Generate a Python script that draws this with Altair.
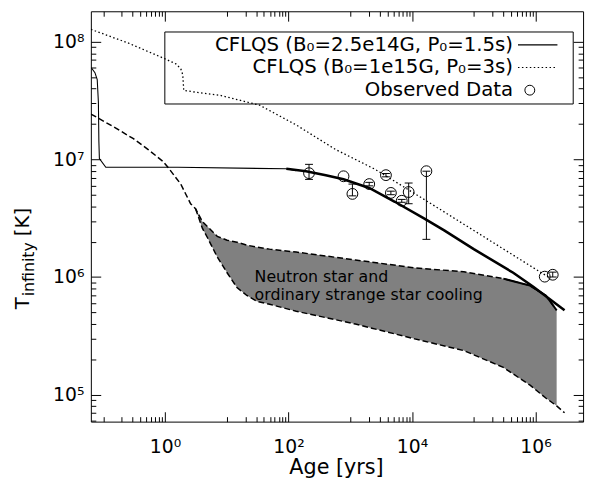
import altair as alt
import pandas as pd

FONT = "DejaVu Sans"

# ---------------- data (log10 age [yr], log10 T [K]) ----------------
# CFLQS (B0=2.5e14 G, P0=1.5 s) - solid
m1_thin_log_age = [-1.193, -1.134, -1.097, -1.078, -1.070, -1.062, -0.958, 0.208, 1.965, 2.125]
m1_thin_log_T = [7.780, 7.738, 7.679, 7.486, 7.151, 7.008, 6.933, 6.933, 6.920, 6.905]
m1_thick_log_age = [1.965, 2.284, 2.604, 2.891, 3.307, 3.722, 4.201, 4.521, 5.000, 5.639, 5.958, 6.470]
m1_thick_log_T = [6.920, 6.900, 6.866, 6.832, 6.757, 6.640, 6.497, 6.396, 6.237, 6.036, 5.919, 5.717]

# CFLQS (B0=1e15 G, P0=3 s) - dotted
m2_log_age = [-1.198, -0.591, -0.032, 0.176, 0.256, 0.288, 0.304, 0.527, 0.895,
              1.534, 2.125, 2.764, 3.403, 4.233, 5.000, 6.070, 6.230]
m2_log_T = [8.106, 7.989, 7.863, 7.813, 7.771, 7.721, 7.587, 7.570, 7.545,
            7.461, 7.293, 7.084, 6.916, 6.648, 6.396, 6.044, 5.994]

# Neutron star / ordinary strange star cooling band - dashed
ns_early_log_age = [-1.198, -0.831, -0.511, -0.272, -0.032, 0.048, 0.256, 0.415, 0.495]
ns_early_log_T = [7.386, 7.277, 7.176, 7.084, 6.983, 6.933, 6.790, 6.623, 6.581]
ns_band_log_age = [0.495, 0.607, 0.687, 0.847, 1.006, 1.166, 1.326, 1.486, 1.693,
                   2.125, 3.083, 4.042, 4.840, 5.479, 5.911, 6.166, 6.342]
ns_upper_log_T = [6.581, 6.470, 6.430, 6.346, 6.313, 6.296, 6.271, 6.254, 6.237,
                  6.212, 6.145, 6.078, 6.044, 5.986, 5.927, 5.843, 5.717]
ns_lower_log_T = [6.581, 6.413, 6.336, 6.170, 6.036, 5.910, 5.843, 5.793, 5.768,
                  5.709, 5.600, 5.474, 5.374, 5.231, 5.080, 4.971, 4.904]
ns_tail_log_age = [6.342, 6.470]
ns_tail_log_T = [4.904, 4.845]

# Observed data
obs_age = [215, 778, 1084, 2028, 3784, 4550, 6823, 8831, 17100, 1.41e6, 1.90e6]
obs_T = [7.64e6, 7.19e6, 5.09e6, 6.17e6, 7.35e6, 5.19e6, 4.45e6, 5.28e6, 7.94e6, 1.007e6, 1.045e6]
obs_T_lo = [6.76e6, None, 4.90e6, 5.96e6, 7.11e6, 5.01e6, 4.32e6, 4.20e6, 2.09e6, None, 1.0e6]
obs_T_hi = [9.08e6, None, 6.17e6, 6.38e6, 7.59e6, 5.37e6, 4.57e6, 6.30e6, 7.94e6, None, 1.10e6]

# axis tick values
x_major = [1, 100, 1e4, 1e6]
y_major = [1e5, 1e6, 1e7, 1e8]

# ---------------- helpers ----------------
X_DOMAIN = [10 ** -1.2, 10 ** 6.77]
Y_DOMAIN = [10 ** 4.77, 10 ** 8.26]
W, H = 499, 416
xsc = alt.Scale(type="log", domain=X_DOMAIN, nice=False)
ysc = alt.Scale(type="log", domain=Y_DOMAIN, nice=False)


def curve(log_age, log_T):
    return pd.DataFrame({"age": [10 ** a for a in log_age],
                         "T": [10 ** t for t in log_T],
                         "i": list(range(len(log_age)))})


def line(df, width=1.0, dash=None):
    kw = dict(color="black", strokeWidth=width, clip=True)
    if dash:
        kw["strokeDash"] = dash
    return alt.Chart(df).mark_line(**kw).encode(
        x=alt.X("age:Q", scale=xsc, axis=None),
        y=alt.Y("T:Q", scale=ysc, axis=None),
        order="i:Q")


one = pd.DataFrame({"a": [0]})


def label(text, x, y, size, align="left", baseline="middle", angle=0):
    return alt.Chart(one).mark_text(text=text, font=FONT, fontSize=size, align=align,
                                    baseline=baseline, angle=angle, color="black").encode(
        x=alt.value(x), y=alt.value(y))


# ---------------- layers ----------------
band_df = pd.DataFrame({"age": [10 ** a for a in ns_band_log_age],
                        "hi": [10 ** t for t in ns_upper_log_T],
                        "lo": [10 ** t for t in ns_lower_log_T]})
band = alt.Chart(band_df).mark_area(color="#808080", opacity=1, clip=True).encode(
    x=alt.X("age:Q", scale=xsc, axis=None),
    y=alt.Y("hi:Q", scale=ysc, axis=None),
    y2="lo:Q")

upper_dashed = line(curve(ns_early_log_age + ns_band_log_age[1:], ns_early_log_T + ns_upper_log_T[1:]),
                    width=1.5, dash=[6, 3])
upper_bold = line(curve(ns_band_log_age[13:], ns_upper_log_T[13:]), width=2.0)
lower_dashed = line(curve(ns_band_log_age + ns_tail_log_age[1:], ns_lower_log_T + ns_tail_log_T[1:]),
                    width=1.5, dash=[6, 3])
m2_line = line(curve(m2_log_age, m2_log_T), width=1.3, dash=[1.5, 2.5])
m1_thin = line(curve(m1_thin_log_age, m1_thin_log_T), width=1.1)
m1_thick = line(curve(m1_thick_log_age, m1_thick_log_T), width=2.6)

obs_df = pd.DataFrame({"age": obs_age, "T": obs_T})
err_df = pd.DataFrame({"age": obs_age, "lo": obs_T_lo, "hi": obs_T_hi}).dropna()
cap_df = pd.concat([err_df[["age", "lo"]].rename(columns={"lo": "v"}),
                    err_df[["age", "hi"]].rename(columns={"hi": "v"})])

err_rule = alt.Chart(err_df).mark_rule(color="black", strokeWidth=1).encode(
    x=alt.X("age:Q", scale=xsc, axis=None),
    y=alt.Y("lo:Q", scale=ysc, axis=None), y2="hi:Q")
err_cap = alt.Chart(cap_df).mark_point(shape="stroke", size=64, color="black",
                                       strokeWidth=1, filled=False, opacity=1).encode(
    x=alt.X("age:Q", scale=xsc, axis=None),
    y=alt.Y("v:Q", scale=ysc, axis=None))
obs = alt.Chart(obs_df).mark_point(shape="circle", size=120, color="black", strokeWidth=1,
                                   filled=False, opacity=1).encode(
    x=alt.X("age:Q", scale=xsc, axis=None),
    y=alt.Y("T:Q", scale=ysc, axis=None))

# legend
leg_box = alt.Chart(one).mark_rect(fillOpacity=0, stroke="black", strokeWidth=1).encode(
    x=alt.value(75), x2=alt.value(489), y=alt.value(21), y2=alt.value(94))
leg_t1 = label("CFLQS (B\u2080=2.5e14G, P\u2080=1.5s)", 428, 34, 20, align="right")
leg_t2 = label("CFLQS (B\u2080=1e15G, P\u2080=3s)", 428, 57, 20, align="right")
leg_t3 = label("Observed Data", 428, 80, 20, align="right")
leg_l1 = alt.Chart(one).mark_rule(color="black", strokeWidth=1.2).encode(
    x=alt.value(433), x2=alt.value(473), y=alt.value(34))
leg_l2 = alt.Chart(one).mark_rule(color="black", strokeWidth=1.2, strokeDash=[1.5, 2.5]).encode(
    x=alt.value(433), x2=alt.value(473), y=alt.value(57))
leg_c = alt.Chart(one).mark_point(shape="circle", size=100, color="black", filled=False,
                                  opacity=1, strokeWidth=1).encode(x=alt.value(445), y=alt.value(80))

band_t1 = label("Neutron star and", 166, 269, 16)
band_t2 = label("ordinary strange star cooling", 166, 288, 16)

x_title = label("Age [yrs]", 249, 463, 21, align="center")
y_t1 = label("T", -63, 302, 20, align="left", baseline="alphabetic", angle=270)
y_t2 = label("infinity", -58, 289, 16, align="left", baseline="alphabetic", angle=270)
y_t3 = label("[K]", -63, 228, 20, align="left", baseline="alphabetic", angle=270)

# axes: pulled inside the frame with a negative offset so their ticks point inward
x_minor = [k * 10 ** n for n in (-1, 1, 3, 5) for k in range(1, 10)]
y_minor = [k * 10 ** n for n in (4, 5, 6, 7) for k in range(2, 10)
           if Y_DOMAIN[0] <= k * 10 ** n <= Y_DOMAIN[1]]
SUP = "'10' + ['\u2070','\u00b9','\u00b2','\u00b3','\u2074','\u2075','\u2076','\u2077','\u2078','\u2079'][round(log(datum.value)/LN10)]"
dummy = pd.DataFrame({"age": [10.0], "T": [1e6]})


def axis_layer(xo, yo, xv, yv, size, labels):
    common = dict(ticks=True, tickColor="black", tickWidth=1, tickSize=size, offset=-size,
                  domain=False, grid=False, title=None)
    if labels:
        lab = dict(labels=True, labelExpr=SUP, labelFont=FONT, labelFontSize=19,
                   labelColor="black", labelOverlap=False, labelFlush=False)
        xa = alt.Axis(orient=xo, values=xv, labelPadding=16, **lab, **common)
        ya = alt.Axis(orient=yo, values=yv, labelPadding=7, **lab, **common)
    else:
        xa = alt.Axis(orient=xo, values=xv, labels=False, **common)
        ya = alt.Axis(orient=yo, values=yv, labels=False, **common)
    return alt.Chart(dummy).mark_point(opacity=0).encode(
        x=alt.X("age:Q", scale=xsc, axis=xa),
        y=alt.Y("T:Q", scale=ysc, axis=ya))


ax1 = axis_layer("bottom", "left", x_major, y_major, 10, True)
ax2 = axis_layer("bottom", "left", x_minor, y_minor, 5, False)
ax3 = axis_layer("top", "right", x_major, y_major, 10, False)
ax4 = axis_layer("top", "right", x_minor, y_minor, 5, False)

chart = alt.layer(
    band, upper_dashed, upper_bold, lower_dashed, m2_line, m1_thin, m1_thick,
    err_rule, err_cap, obs,
    leg_box, leg_t1, leg_t2, leg_t3, leg_l1, leg_l2, leg_c,
    band_t1, band_t2, x_title, y_t1, y_t2, y_t3,
    ax1, ax2, ax3, ax4,
).resolve_axis(x="independent", y="independent").properties(
    width=W, height=H,
    autosize=alt.AutoSizeParams(type="none"),
    padding={"left": 84, "top": 0, "right": 6, "bottom": 66},
    background="white",
).configure_view(stroke="black", strokeWidth=1)

chart.save("out.html", embed_options={"renderer": "svg", "actions": False})
